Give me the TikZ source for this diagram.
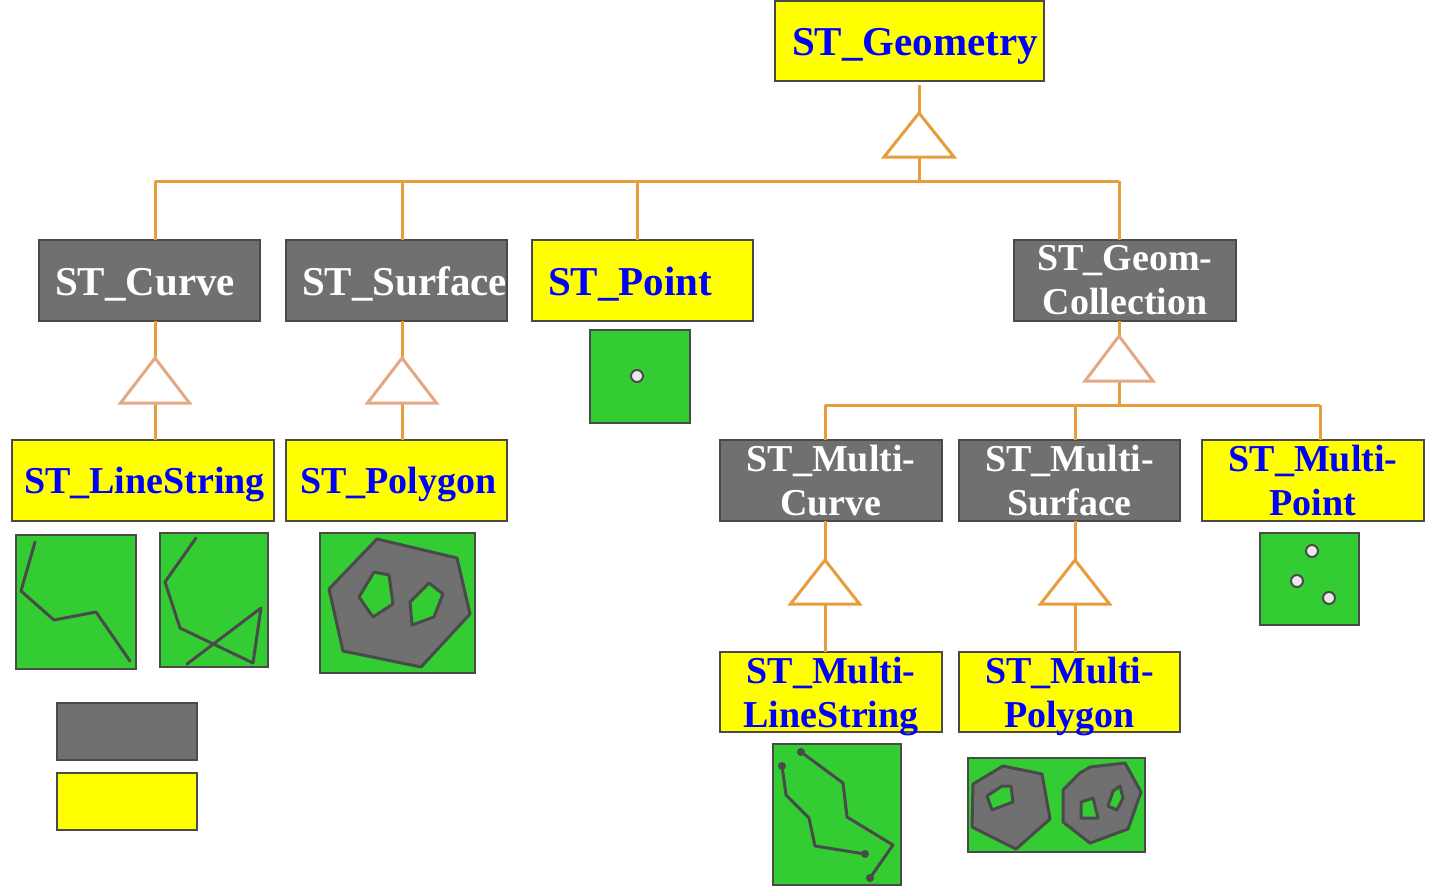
\documentclass[tikz,border=0pt]{standalone}
\usepackage{fontspec}
\setmainfont{Liberation Serif}
\definecolor{bordc}{HTML}{4A4A4A}
\definecolor{boxgray}{HTML}{707070}
\definecolor{boxyellow}{HTML}{FFFF00}
\definecolor{textblue}{HTML}{0000FF}
\definecolor{icongreen}{HTML}{33CC33}
\definecolor{linec}{HTML}{E89D3C}
\definecolor{trilc}{HTML}{E2A984}
\definecolor{ptfill}{HTML}{E8E8E8}
\begin{document}
\begin{tikzpicture}[x=1pt,y=-1pt,
  box/.style={draw=bordc, line width=2.5pt, inner ysep=0pt, outer sep=0pt},
  gbox/.style={box, fill=boxgray, text=white},
  ybox/.style={box, fill=boxyellow, text=textblue},
  one/.style={font=\bfseries\fontsize{41}{44}\selectfont, text height=29pt, text depth=0pt, align=left, minimum height=81pt, anchor=north west},
  onesmall/.style={one, font=\bfseries\fontsize{38}{44}\selectfont, text height=26pt},
  two/.style={font=\bfseries\fontsize{38}{44}\selectfont, align=center, inner xsep=0pt, minimum height=81pt, anchor=north west},
  legbox/.style={box, minimum width=140pt, minimum height=57pt, anchor=north west},
  conn/.style={draw=linec, line width=3pt},
  tri/.style={draw=linec, line width=3pt, fill=white},
  tril/.style={draw=trilc, line width=3pt, fill=white},
  icon/.style={draw=bordc, line width=2.5pt, fill=icongreen},
  geo/.style={draw=bordc, line width=3pt, line join=round, line cap=round},
  poly/.style={draw=bordc, line width=3pt, fill=boxgray, line join=round},
  hole/.style={draw=bordc, line width=3pt, fill=icongreen, line join=round},
  pt/.style={draw=bordc, line width=2pt, fill=ptfill},
  dot/.style={fill=bordc}
]
\useasboundingbox (0,0) rectangle (1432,887);

% ---- class boxes ----
\node[ybox, one, minimum width=269pt, minimum height=80pt, text width=235pt, inner xsep=17pt] (geom) at (775,1) {ST\_Geometry};
\node[gbox, one, minimum width=221pt, text width=189pt, inner xsep=16pt] (curve) at (39,240) {ST\_Curve};
\node[gbox, one, minimum width=221pt, text width=189pt, inner xsep=16pt] (surface) at (286,240) {ST\_Surface};
\node[ybox, one, minimum width=221pt, text width=189pt, inner xsep=16pt] (point) at (532,240) {ST\_Point};
\node[gbox, two, minimum width=222pt] (gcoll) at (1014,240) {ST\_Geom-\\Collection};
\node[ybox, onesmall, minimum width=262pt, text width=238pt, inner xsep=12pt] (linestring) at (12,440) {ST\_LineString};
\node[ybox, onesmall, minimum width=221pt, text width=193pt, inner xsep=14pt] (polygon) at (286,440) {ST\_Polygon};
\node[gbox, two, minimum width=222pt] (mcurve) at (720,440) {ST\_Multi-\\Curve};
\node[gbox, two, minimum width=221pt] (msurf) at (959,440) {ST\_Multi-\\Surface};
\node[ybox, two, minimum width=222pt] (mpoint) at (1202,440) {ST\_Multi-\\Point};
\node[ybox, two, minimum width=222pt, minimum height=80pt] (mls) at (720,652) {ST\_Multi-\\\raisebox{0pt}[\height][0pt]{LineString}};
\node[ybox, two, minimum width=221pt, minimum height=80pt] (mpoly) at (959,652) {ST\_Multi-\\\raisebox{0pt}[\height][0pt]{Polygon}};

% ---- legend ----
\node[legbox, fill=boxgray] (leggray) at (57,703) {};
\node[legbox, fill=boxyellow] (legyellow) at (57,773) {};

% ---- top generalisation ----
\coordinate (t1a) at (919,113);
\coordinate (t1b) at (919,157);
\coordinate (b1) at (155,181);
\coordinate (b2) at (402,181);
\coordinate (b3) at (637,181);
\coordinate (b4) at (1119,181);
\coordinate (j1) at (919,181);
\draw[conn, shorten <=4pt] (geom.south -| t1a) -- (t1a);
\draw[conn] (t1b) -- (j1);
\draw[conn] (b1) -- (b4);
\draw[conn] (b1) -- (b1 |- curve.north);
\draw[conn] (b2) -- (b2 |- surface.north);
\draw[conn] (b3) -- (b3 |- point.north);
\draw[conn] (b4) -- (b4 |- gcoll.north);
\draw[tri] (t1a) -- ++(35,44) -- ++(-70,0) -- cycle;

% ---- curve -> linestring ----
\coordinate (t2a) at (155,358);
\coordinate (t2b) at (155,403);
\draw[conn] (t2a |- curve.south) -- (t2a);
\draw[conn] (t2b) -- (t2b |- linestring.north);
\draw[tril] (t2a) -- ++(34.5,45) -- ++(-69,0) -- cycle;

% ---- surface -> polygon ----
\coordinate (t3a) at (402,358);
\coordinate (t3b) at (402,403);
\draw[conn] (t3a |- surface.south) -- (t3a);
\draw[conn] (t3b) -- (t3b |- polygon.north);
\draw[tril] (t3a) -- ++(34.5,45) -- ++(-69,0) -- cycle;

% ---- geomcollection -> multis ----
\coordinate (t4a) at (1119,336);
\coordinate (t4b) at (1119,381);
\coordinate (j2) at (1119,405);
\coordinate (c1) at (825,405);
\coordinate (c2) at (1075,405);
\coordinate (c3) at (1320,405);
\draw[conn] (t4a |- gcoll.south) -- (t4a);
\draw[conn] (t4b) -- (j2);
\draw[conn] (c1) -- (c3);
\draw[conn] (c1) -- (c1 |- mcurve.north);
\draw[conn] (c2) -- (c2 |- msurf.north);
\draw[conn] (c3) -- (c3 |- mpoint.north);
\draw[tril] (t4a) -- ++(34,45) -- ++(-68,0) -- cycle;

% ---- multicurve -> multilinestring ----
\coordinate (t5a) at (825,560);
\coordinate (t5b) at (825,604);
\draw[conn] (t5a |- mcurve.south) -- (t5a);
\draw[conn] (t5b) -- (t5b |- mls.north);
\draw[tri] (t5a) -- ++(34.5,44) -- ++(-69,0) -- cycle;

% ---- multisurface -> multipolygon ----
\coordinate (t6a) at (1075,560);
\coordinate (t6b) at (1075,604);
\draw[conn] (t6a |- msurf.south) -- (t6a);
\draw[conn] (t6b) -- (t6b |- mpoly.north);
\draw[tri] (t6a) -- ++(34.5,44) -- ++(-69,0) -- cycle;

% ---- icons ----
% point
\draw[icon] (590,330) rectangle (690,423);
\draw[pt] (637,376) circle (6pt);
% linestrings
\draw[icon] (16,535) rectangle (136,669);
\draw[geo] (35,542) -- (21,591) -- (54,620) -- (96,612) -- (130,661);
\draw[icon] (160,533) rectangle (268,667);
\draw[geo] (196,538) -- (165,582) -- (180,628) -- (253,663) -- (261,608) -- (187,664);
% polygon
\draw[icon] (320,533) rectangle (475,673);
\draw[poly] (377,539) -- (457,558) -- (470,614) -- (421,667) -- (343,651) -- (329,589) -- cycle;
\draw[hole] (374,572) -- (389,575) -- (393,604) -- (373,617) -- (359,597) -- cycle;
\draw[hole] (429,583) -- (443,594) -- (434,617) -- (412,625) -- (410,602) -- cycle;
% multipoint
\draw[icon] (1260,533) rectangle (1359,625);
\draw[pt] (1312,551) circle (6pt);
\draw[pt] (1297,581) circle (6pt);
\draw[pt] (1329,598) circle (6pt);
% multilinestring
\draw[icon] (773,744) rectangle (901,885);
\draw[geo] (801,752) -- (843,783) -- (847,817) -- (893,845) -- (870,878);
\draw[geo] (782,766) -- (786,795) -- (809,818) -- (815,846) -- (865,854);
\fill[dot] (801,752) circle (4pt);
\fill[dot] (870,878) circle (4pt);
\fill[dot] (782,766) circle (4pt);
\fill[dot] (865,854) circle (4pt);
% multipolygon
\draw[icon] (968,758) rectangle (1145,852);
\draw[poly] (1003,766) -- (1042,774) -- (1050,819) -- (1016,849) -- (972,827) -- (973,784) -- cycle;
\draw[hole] (987,796) -- (1002,786) -- (1011,786) -- (1013,802) -- (992,810) -- cycle;
\draw[poly] (1125,763) -- (1141,792) -- (1128,829) -- (1090,843) -- (1063,822) -- (1063,790) -- (1080,773) -- (1090,767) -- cycle;
\draw[hole] (1081,802) -- (1093,798) -- (1098,818) -- (1081,818) -- cycle;
\draw[hole] (1113,791) -- (1120,786) -- (1123,798) -- (1117,810) -- (1108,806) -- cycle;
\end{tikzpicture}
\end{document}
